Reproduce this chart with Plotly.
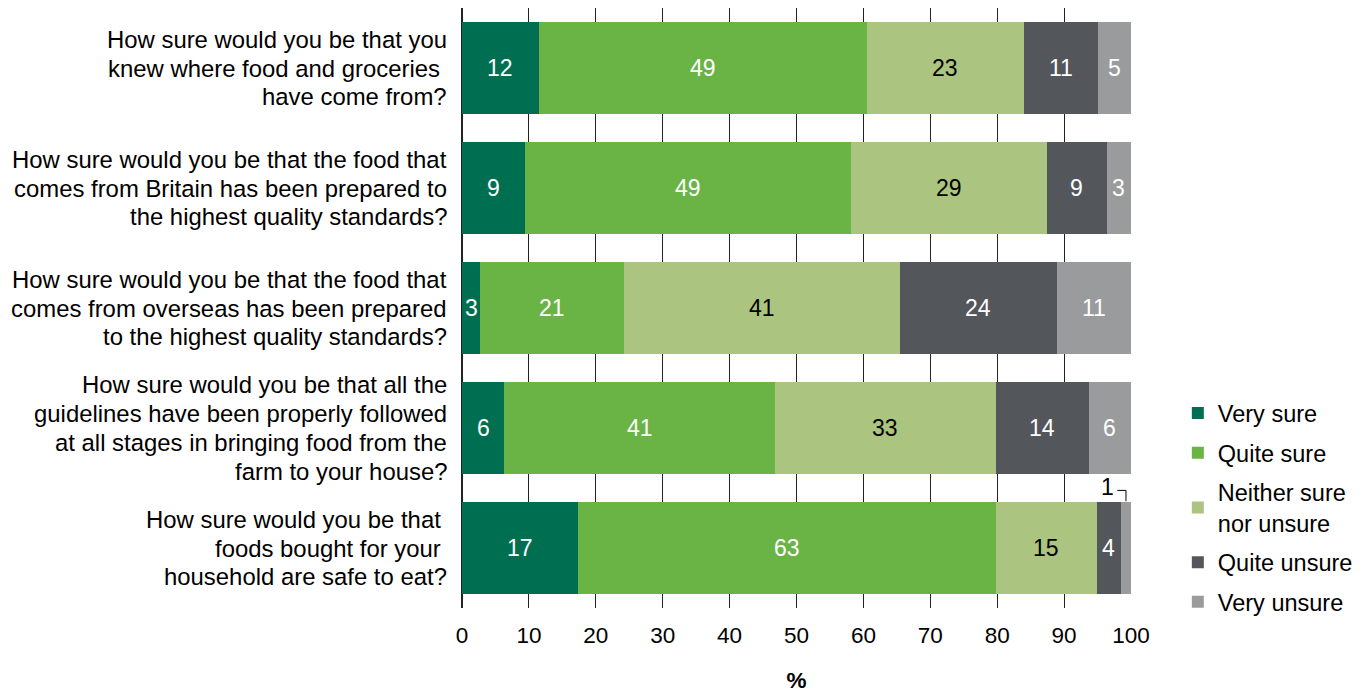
import plotly.graph_objects as go

questions = [
    ['How sure would you be that you', 'knew where food and groceries\u00a0', 'have come from?'],
    ['How sure would you be that the food that', 'comes from Britain has been prepared to', 'the highest quality standards?'],
    ['How sure would you be that the food that', 'comes from overseas has been prepared', 'to the highest quality standards?'],
    ['How sure would you be that all the', 'guidelines have been properly followed', 'at all stages in bringing food from the', 'farm to your house?'],
    ['How sure would you be that\u00a0', 'foods bought for your\u00a0', 'household are safe to eat?'],
]
series_names = ['Very sure', 'Quite sure', 'Neither sure<br>nor unsure', 'Quite unsure', 'Very unsure']

very_sure = [11.5, 9.4, 2.7, 6.3, 17.3]
quite_sure = [49.0, 48.7, 21.5, 40.5, 62.5]
neither = [23.5, 29.3, 41.3, 33.0, 15.1]
quite_unsure = [11.1, 9.0, 23.4, 13.9, 3.6]
very_unsure = [4.9, 3.6, 11.1, 6.3, 1.5]

very_sure_lbl = [12, 9, 3, 6, 17]
quite_sure_lbl = [49, 49, 21, 41, 63]
neither_lbl = [23, 29, 41, 33, 15]
quite_unsure_lbl = [11, 9, 24, 14, 4]
very_unsure_lbl = [5, 3, 11, 6, 1]

series = [very_sure, quite_sure, neither, quite_unsure, very_unsure]
labels = [very_sure_lbl, quite_sure_lbl, neither_lbl, quite_unsure_lbl, very_unsure_lbl]
colors = ['#006f51', '#6ab446', '#abc47f', '#53565a', '#9a9b9c']
text_colors = ['white', 'white', 'black', 'white', 'white']

FONT = 'Liberation Sans, Arial, sans-serif'
BAR_W = 0.76
LINE_H = 28.8
rows = list(range(len(questions)))

fig = go.Figure()
for i, name in enumerate(series_names):
    fig.add_trace(go.Bar(
        y=rows, x=series[i], name=name, orientation='h',
        width=BAR_W, marker=dict(color=colors[i], line=dict(width=0)),
        legendgroup=str(i), hoverinfo='skip'
    ))

annotations = []

# question text, one annotation per line so the line spacing can be set
for r, lines in enumerate(questions):
    n = len(lines)
    for k, line in enumerate(lines):
        annotations.append(dict(
            xref='paper', x=0, xshift=-13, xanchor='right',
            y=r, yshift=((n - 1) / 2 - k) * LINE_H,
            text=line, showarrow=False,
            font=dict(size=23.9, color='black', family=FONT)
        ))

# segment labels at the middle of each piece
for r in rows:
    left = 0
    for i in range(len(series)):
        v = series[i][r]
        mid = left + v / 2
        left += v
        if v < 2:
            # small piece: label above with a callout bracket
            top = r - BAR_W / 2
            annotations.append(dict(
                x=mid - 2.8, y=top - 0.13, text=str(labels[i][r]), showarrow=False,
                font=dict(size=23, color='black', family=FONT)
            ))
            fig.add_shape(type='path', xref='x', yref='y',
                          path=f'M {mid - 1.3} {top - 0.1} L {mid} {top - 0.1} L {mid} {top - 0.01}',
                          line=dict(color='black', width=1))
            continue
        annotations.append(dict(
            x=mid, y=r, text=str(labels[i][r]), showarrow=False,
            font=dict(size=23, color=text_colors[i], family=FONT)
        ))

# page has an 8px body margin, so the figure is 8px smaller each way
fig.update_layout(
    barmode='stack',
    width=1363, height=687,
    plot_bgcolor='white', paper_bgcolor='white',
    margin=dict(l=454, r=240, t=0, b=87),
    font=dict(family=FONT, size=23, color='black'),
    xaxis=dict(
        range=[0, 100], dtick=10, showgrid=True, gridcolor='#222222', gridwidth=1,
        zeroline=True, zerolinecolor='#222222', zerolinewidth=2,
        ticks='', ticklabelstandoff=11, tickfont=dict(size=22.5),
        title=dict(text='<b>%</b>', font=dict(size=22.5), standoff=25),
        fixedrange=True, automargin=False
    ),
    yaxis=dict(
        range=[4.5, -0.5], tickvals=rows, showticklabels=False,
        showgrid=False, zeroline=False, ticks='', fixedrange=True
    ),
    legend=dict(
        x=1.07, xanchor='left', y=0.167, yanchor='middle',
        font=dict(size=23.5), tracegroupgap=6, traceorder='grouped',
        bgcolor='rgba(0,0,0,0)'
    ),
    annotations=annotations,
    showlegend=True
)

fig.write_html('out.html')
